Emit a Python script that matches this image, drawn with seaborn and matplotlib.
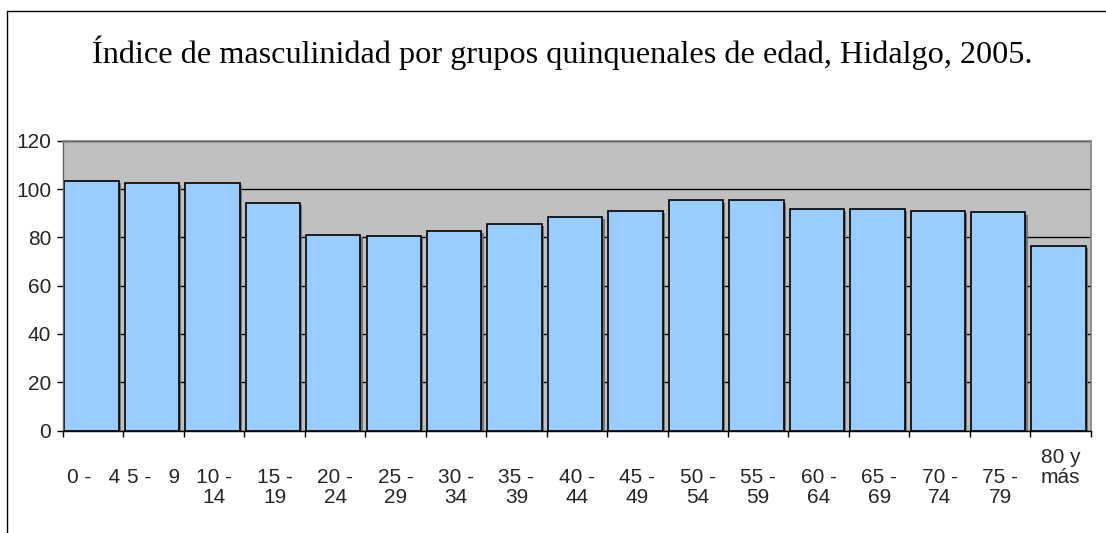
from __future__ import annotations

import matplotlib

matplotlib.use("Agg")
import matplotlib.pyplot as plt
import numpy as np
import pandas as pd
import seaborn as sns
from matplotlib.lines import Line2D
from matplotlib.patheffects import Normal, SimplePatchShadow


# age groups as printed under the bars (Excel wrapped most of them)
groups = [
    "0 -   4", "5 -   9", "10 -\n14", "15 -\n19", "20 -\n24", "25 -\n29",
    "30 -\n34", "35 -\n39", "40 -\n44", "45 -\n49", "50 -\n54", "55 -\n59",
    "60 -\n64", "65 -\n69", "70 -\n74", "75 -\n79", "80 y\nmás",
]
masc_index = [
    103.3, 102.6, 102.6, 94.1, 81.1, 80.5, 82.5, 85.4, 88.4,
    91.0, 95.3, 95.3, 91.7, 91.7, 91.0, 90.3, 76.3,
]
y_ticks = [0, 20, 40, 60, 80, 100, 120]
title = "Índice de masculinidad por grupos quinquenales de edad, Hidalgo, 2005."

df = pd.DataFrame({"grupo": groups, "indice": masc_index})

sns.set_theme(style="white")
plt.rcParams["font.family"] = ["Liberation Sans", "DejaVu Sans"]

fig = plt.figure(figsize=(11.06, 5.33), dpi=100)
fig.patch.set_facecolor("white")
ax = fig.add_axes([0.0570, 0.1923, 0.9292, 0.5437])
ax.set_facecolor("#C0C0C0")

sns.barplot(
    data=df, x="grupo", y="indice", order=groups, color="#99CCFF",
    saturation=1, width=0.9, edgecolor="black", linewidth=1.2, ax=ax,
)
for bar in ax.patches:
    bar.set_x(bar.get_x() - 0.03)
    bar.set_path_effects([
        SimplePatchShadow(offset=(1.6, -1.6), shadow_rgbFace="#6e6e6e", alpha=0.9),
        Normal(),
    ])

ax.set_xlim(-0.5, len(groups) - 0.5)
ax.set_ylim(0, 120)
ax.set_yticks(y_ticks)
ax.yaxis.grid(True, color="black", linewidth=1)
ax.set_axisbelow(True)
ax.set_xlabel("")
ax.set_ylabel("")

# ticks sit between categories, labels in the middle
ax.set_xticks(np.arange(-0.5, len(groups), 1), labels=[])
# pad labels so every label's first line lands on the same row
padded = []
for g in groups:
    if g.startswith("80"):
        padded.append(g + "\n\n")
    elif "\n" not in g:
        padded.append(g + "\n")
    else:
        padded.append(g)
ax.set_xticks(range(len(groups)), labels=padded, minor=True)
for lab in ax.get_xticklabels(minor=True):
    lab.set_verticalalignment("center")
    lab.set_linespacing(1.05)
ax.tick_params(axis="x", which="major", bottom=True, length=4.3, width=1, color="black")
ax.tick_params(axis="x", which="minor", bottom=True, length=0, pad=41, labelsize=15)
ax.tick_params(axis="y", left=True, length=4.3, width=1, color="black", pad=4.3, labelsize=15)

for side in ("top", "right"):
    ax.spines[side].set_color("#808080")
    ax.spines[side].set_linewidth(1.2)
ax.spines["left"].set_color("#606060")
ax.spines["bottom"].set_color("black")
for side in ("left", "bottom"):
    ax.spines[side].set_linewidth(1)

fig.text(0.508, 1 - 63 / 533, title, ha="center", va="baseline",
         fontsize=23.2, family=["Liberation Serif", "DejaVu Serif"], color="black")

# chart frame (only top and left edges visible in the source)
fig.add_artist(Line2D([7 / 1106, 1], [1 - 11 / 533, 1 - 11 / 533],
                      transform=fig.transFigure, color="black", linewidth=1))
fig.add_artist(Line2D([7 / 1106, 7 / 1106], [0, 1 - 11 / 533],
                      transform=fig.transFigure, color="black", linewidth=1))

fig.savefig("out.png", dpi=100)
plt.close(fig)
